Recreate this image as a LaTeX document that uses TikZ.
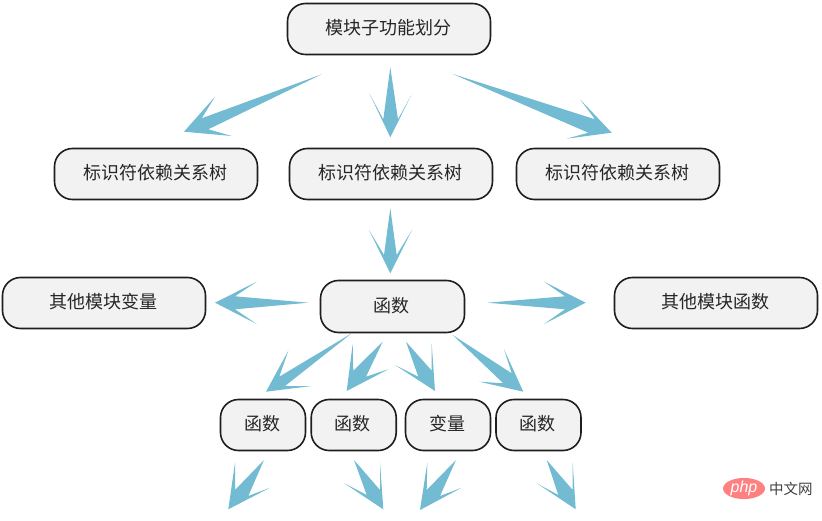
\documentclass[tikz,border=0pt]{standalone}
\usepackage{fontspec}
\setmainfont{Liberation Sans}
\newfontfamily\cjk{Noto Sans CJK SC}
\usetikzlibrary{shapes.geometric}
\definecolor{arrowblue}{HTML}{72BBD2}
\definecolor{boxfill}{HTML}{F2F2F2}
\definecolor{boxline}{HTML}{1E1E1E}
\tikzset{
  box/.style={draw=boxline,fill=boxfill,line width=1.6pt,rounded corners=18pt,
    minimum height=51pt,inner sep=0pt,font=\cjk\fontsize{18}{20}\selectfont,text=black!85,
    text height=15pt,text depth=3.4pt,execute at begin node=\hspace*{-2pt}},
  widebox/.style={box,minimum width=203pt},
  midbox/.style={box,minimum width=144pt,minimum height=52pt},
  smallbox/.style={box,minimum width=85pt},
  feather/.style={fill=arrowblue,draw=none}
}
% tail, upper notch, upper barb, head, lower barb, lower notch
\newcommand{\featherarrow}[7]{%
  \coordinate (#1tail) at #2;
  \coordinate (#1head) at #5;
  \path[feather] (#1tail) -- #3 -- #4 -- (#1head) -- #6 -- #7 -- cycle;
}
\begin{document}
\begin{tikzpicture}[x=1pt,y=-1pt]
\useasboundingbox (0,0) rectangle (822,521);
\fill[white] (0,0) rectangle (822,521);
% boxes
\node[widebox] (top) at (389,29) {模块子功能划分};
\node[widebox] (l2a) at (156,174) {标识符依赖关系树};
\node[widebox] (l2b) at (391,174) {标识符依赖关系树};
\node[widebox] (l2c) at (618,174) {标识符依赖关系树};
\node[widebox] (othervar) at (104,303) {其他模块变量};
\node[midbox] (func) at (392.5,306.5) {函数};
\node[widebox] (otherfunc) at (716,303) {其他模块函数};
\node[smallbox] (f1) at (263,425) {函数};
\node[smallbox] (f2) at (353.7,425) {函数};
\node[smallbox] (v1) at (448,425) {变量};
\node[smallbox] (f3) at (538.5,425) {函数};
% arrows
\featherarrow{a}{(321.7,74.3)}{(201.7,118.3)}{(215,96.7)}{(184,131.7)}{(231.7,136)}{(208.3,129.3)}
\featherarrow{b}{(390.3,67.3)}{(383.3,119.3)}{(369.3,93.3)}{(390.3,137.3)}{(411.3,95)}{(398,119.3)}
\featherarrow{c}{(452.7,74)}{(595,119.3)}{(580,99.3)}{(611.7,132.7)}{(566.7,138.7)}{(588.3,132.7)}
\featherarrow{d}{(390.3,208.3)}{(384,255)}{(369,230)}{(390.3,273.3)}{(412,230)}{(396.7,255)}
\featherarrow{e}{(308.3,302.7)}{(235,296.3)}{(256.7,281.7)}{(215,302.7)}{(256.7,324)}{(235,309.3)}
\featherarrow{f}{(487.3,302.7)}{(565,296.3)}{(544,281.7)}{(585.7,302.7)}{(544,324)}{(565,309.3)}
\featherarrow{g}{(351.7,333.3)}{(279.3,376.7)}{(288.3,350.7)}{(266,391.7)}{(311.7,386)}{(285,386)}
\featherarrow{h}{(382.7,341.7)}{(353.3,370.7)}{(352.7,344)}{(346.7,391)}{(388.3,369.3)}{(366,376.7)}
\featherarrow{i}{(406,341.7)}{(431.7,370.7)}{(431.7,343.3)}{(435,391)}{(395,365)}{(418.3,376.7)}
\featherarrow{j}{(452.7,335)}{(511.7,373.3)}{(504,349.3)}{(523.3,391.7)}{(479.3,381.7)}{(503.3,383.3)}
\featherarrow{k}{(264,460)}{(235,490)}{(235,462.7)}{(228.3,509.3)}{(270,487.7)}{(248.3,496)}
\featherarrow{l}{(354,460)}{(380,490)}{(380,462.7)}{(383.3,509.3)}{(344.3,483.3)}{(366.7,495)}
\featherarrow{m}{(456,460)}{(426.7,490)}{(427.3,462.7)}{(420,510)}{(461.7,487.7)}{(440,496)}
\featherarrow{n}{(546.7,460)}{(572.7,490)}{(572.7,462.7)}{(575.7,509.3)}{(536.7,483.3)}{(558.3,495)}
% watermark
\node[ellipse,fill=red!50!white,minimum width=42pt,minimum height=19pt,inner sep=0pt,
  font=\itshape\fontsize{16}{16}\selectfont,text=white] (wm) at (744,488.5) {php};
\node[anchor=west,inner sep=0pt,font=\cjk\fontsize{14.5}{16}\selectfont,text=black!75] (wmt) at (769,488.5) {中文网};
\end{tikzpicture}
\end{document}
